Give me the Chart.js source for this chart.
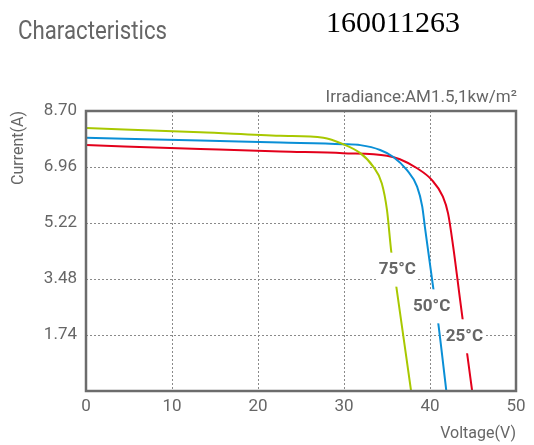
<!DOCTYPE html>
<html>
<head>
<meta charset="utf-8">
<script src="https://cdn.jsdelivr.net/npm/chart.js@4.4.1/dist/chart.umd.min.js"></script>
<style>
  html, body { margin: 0; padding: 0; background: #fff; }
  #wrap { position: relative; width: 534px; height: 445px; }
</style>
</head>
<body>
<div id="wrap"><canvas id="grafico" width="534" height="445"></canvas></div>
<script>
// I-V curves
const volt75 = [0, 13.3, 22.6, 27.6, 29.9, 31.9, 33.4, 34.4, 35.0, 35.5, 36.0, 37.8];
const amp75  = [8.17, 8.04, 7.93, 7.87, 7.67, 7.39, 6.97, 6.45, 5.62, 4.32, 3.40, 0];

const volt50 = [0, 13.3, 22.6, 29.9, 31.9, 34.2, 35.7, 37.3, 38.5, 39.1, 39.4, 40.3, 40.9, 41.9];
const amp50  = [7.87, 7.78, 7.72, 7.67, 7.64, 7.49, 7.28, 6.87, 6.35, 5.73, 5.11, 3.35, 2.23, 0];

const volt25 = [0, 13.3, 22.6, 29.9, 35.0, 36.5, 38.5, 40.2, 41.5, 42.1, 42.7, 43.5, 44.3, 44.9];
const amp25  = [7.64, 7.52, 7.44, 7.39, 7.31, 7.20, 6.92, 6.56, 6.04, 5.52, 4.48, 2.83, 1.20, 0];

const seriesNames = ["75°C", "50°C", "25°C"];
const xTicks = [0, 10, 20, 30, 40, 50];
const yTicks = [0, 1.74, 3.48, 5.22, 6.96, 8.70];

// where the temperature tags sit (in V / A)
const tagAt = [[36.2, 3.77], [40.2, 2.63], [44.0, 1.70]];

const grey = "#666666";
const cores = ["#a8c800", "#0a8fd6", "#e3001b"];

function pares(vs, is) {
  return vs.map((v, i) => ({ x: v, y: is[i] }));
}

const moldura = {
  id: "moldura",
  afterDatasetsDraw(chart) {
    const { ctx, chartArea: a, scales } = chart;
    ctx.save();
    ctx.strokeStyle = "#6c6c6c";
    ctx.lineWidth = 2.5;
    ctx.strokeRect(a.left, a.top, a.right - a.left, a.bottom - a.top);

    ctx.font = "bold 17px Roboto";
    ctx.textAlign = "center";
    ctx.textBaseline = "middle";
    seriesNames.forEach((nome, i) => {
      const px = scales.x.getPixelForValue(tagAt[i][0]);
      const py = scales.y.getPixelForValue(tagAt[i][1]);
      const w = ctx.measureText(nome).width;
      ctx.fillStyle = "#fff";
      ctx.fillRect(px - w / 2 - 1, py - 17, w + 2, 34);
      ctx.fillStyle = grey;
      ctx.fillText(nome, px, py);
    });
    ctx.restore();
  },
  afterDraw(chart) {
    const ctx = chart.ctx;
    ctx.save();
    ctx.fillStyle = grey;
    ctx.textAlign = "left";
    ctx.textBaseline = "alphabetic";
    // the original title face is a narrow one, squeeze Roboto a bit
    ctx.save();
    ctx.translate(18, 39);
    ctx.scale(0.89, 1);
    ctx.font = "25px Roboto";
    ctx.fillText("Characteristics", 0, 0);
    ctx.restore();

    ctx.fillStyle = "#000";
    ctx.font = "30px 'Liberation Serif'";
    ctx.fillText("160011263", 326, 32);

    ctx.fillStyle = grey;
    ctx.font = "17px Roboto";
    ctx.textAlign = "right";
    ctx.fillText("Irradiance:AM1.5,1kw/m²", 517, 102);
    ctx.restore();
  },
};

new Chart(document.getElementById("grafico"), {
  type: "line",
  data: {
    datasets: [
      { label: seriesNames[0], data: pares(volt75, amp75), borderColor: cores[0] },
      { label: seriesNames[1], data: pares(volt50, amp50), borderColor: cores[1] },
      { label: seriesNames[2], data: pares(volt25, amp25), borderColor: cores[2] },
    ],
  },
  options: {
    responsive: false,
    animation: false,
    layout: { padding: { left: 0, right: 18, top: 111, bottom: 0 } },
    elements: {
      point: { radius: 0 },
      line: { borderWidth: 2, cubicInterpolationMode: "monotone", fill: false },
    },
    plugins: { legend: { display: false }, tooltip: { enabled: false } },
    scales: {
      x: {
        type: "linear",
        min: 0,
        max: 50,
        afterFit: (s) => { s.height = 54; },
        afterBuildTicks: (s) => { s.ticks = xTicks.map((v) => ({ value: v })); },
        ticks: { color: grey, font: { family: "Roboto", size: 17 }, padding: 6 },
        grid: { color: "#8a8a8a", lineWidth: 1, drawTicks: false },
        border: { display: false, dash: [2, 2] },
        title: {
          display: true, text: "Voltage(V)", align: "end", color: grey,
          font: { family: "Roboto", size: 16 }, padding: { top: 4, bottom: 1 },
        },
      },
      y: {
        type: "linear",
        min: 0,
        max: 8.7,
        afterFit: (s) => { s.width = 86; },
        afterBuildTicks: (s) => { s.ticks = yTicks.map((v) => ({ value: v })); },
        ticks: {
          color: grey, font: { family: "Roboto", size: 17 }, padding: 9,
          callback: (v) => (v === 0 ? "" : v.toFixed(2)),
        },
        grid: { color: "#8a8a8a", lineWidth: 1, drawTicks: false },
        border: { display: false, dash: [2, 2] },
        title: {
          display: true, text: "Current(A)", align: "end", color: grey,
          font: { family: "Roboto", size: 16 }, padding: { top: 9, bottom: 0 },
        },
      },
    },
  },
  plugins: [moldura],
});
</script>
</body>
</html>
